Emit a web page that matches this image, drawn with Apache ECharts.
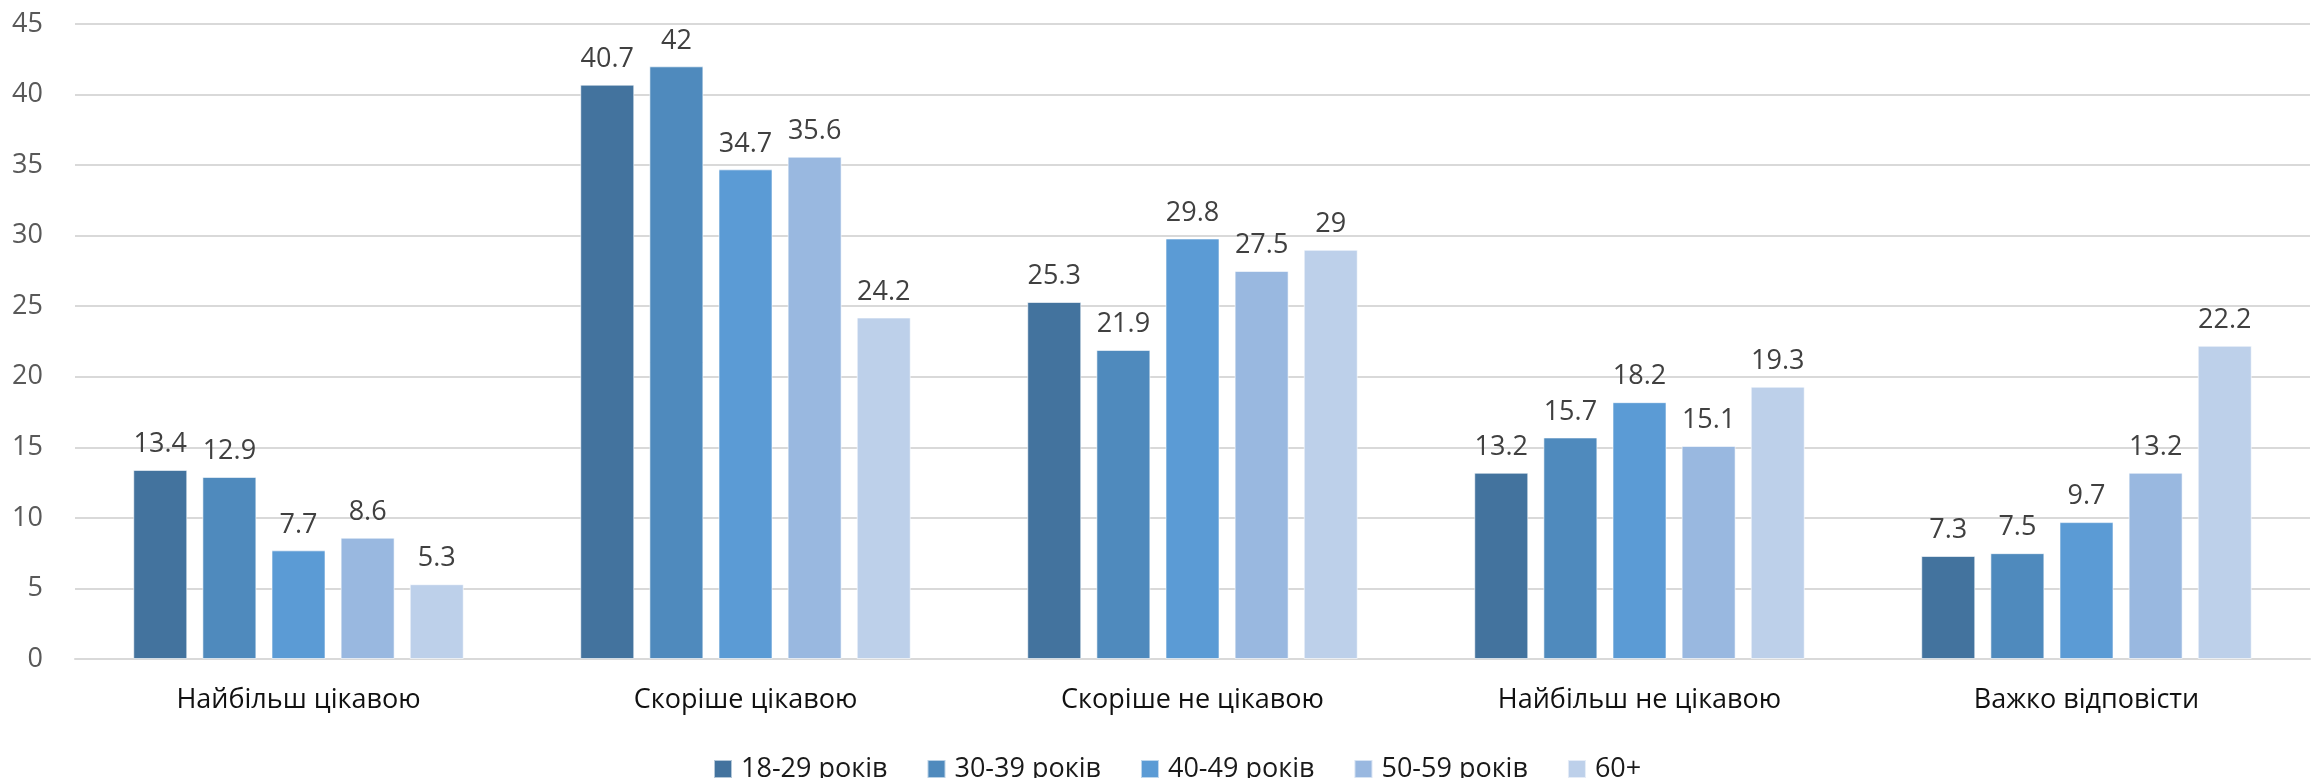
<!DOCTYPE html>
<html>
<head>
<meta charset="utf-8">
<script src="https://cdn.jsdelivr.net/npm/echarts@6/dist/echarts.min.js"></script>
<style>
  html, body { margin: 0; padding: 0; background: #fff; }
  #chart { width: 2311px; height: 778px; }
</style>
</head>
<body>
<div id="chart"></div>
<script>
// Answer options (x-axis categories)
const categories = ['Найбільш цікавою', 'Скоріше цікавою', 'Скоріше не цікавою', 'Найбільш не цікавою', 'Важко відповісти'];

// Age groups and their shares, %
const ageGroups = ['18-29 років', '30-39 років', '40-49 років', '50-59 років', '60+'];
const age18_29 = [13.4, 40.7, 25.3, 13.2, 7.3];
const age30_39 = [12.9, 42, 21.9, 15.7, 7.5];
const age40_49 = [7.7, 34.7, 29.8, 18.2, 9.7];
const age50_59 = [8.6, 35.6, 27.5, 15.1, 13.2];
const age60plus = [5.3, 24.2, 29, 19.3, 22.2];

const yTicks = { min: 0, max: 45, interval: 5 };
const colors = ['#43739E', '#4F8ABD', '#5B9BD5', '#99B8E0', '#BDD0EA'];

const seriesValues = [age18_29, age30_39, age40_49, age50_59, age60plus];
const FONT = '"Open Sans", "Noto Sans", sans-serif';

const chart = echarts.init(document.getElementById('chart'), null, { renderer: 'canvas' });

chart.setOption({
  animation: false,
  textStyle: { fontFamily: FONT },
  grid: { left: 75, right: 1, top: 24, bottom: 119, containLabel: false },
  legend: {
    data: ageGroups,
    top: 750,
    left: 708,
    itemWidth: 18,
    itemHeight: 18,
    itemGap: 39,
    icon: 'rect',
    textStyle: { fontFamily: FONT, fontSize: 27, lineHeight: 28, color: '#1a1a1a', padding: [0, 0, 0, 4] }
  },
  xAxis: {
    type: 'category',
    data: categories,
    axisLine: { show: true, lineStyle: { color: '#d9d9d9', width: 2 } },
    axisTick: { show: false },
    axisLabel: { fontFamily: FONT, fontSize: 27, color: '#111', margin: 28 }
  },
  yAxis: {
    type: 'value',
    min: yTicks.min,
    max: yTicks.max,
    interval: yTicks.interval,
    axisLine: { show: false },
    axisTick: { show: false },
    splitLine: { lineStyle: { color: '#d9d9d9', width: 2 } },
    axisLabel: { fontFamily: FONT, fontSize: 27, color: '#595959', margin: 32 }
  },
  series: ageGroups.map((name, i) => ({
    name,
    type: 'bar',
    data: seriesValues[i],
    barWidth: 54,
    barGap: '28%',
    itemStyle: { color: colors[i], borderColor: 'rgba(255,255,255,0.6)', borderWidth: 1 },
    label: {
      show: true,
      position: 'top',
      distance: 12,
      fontFamily: FONT,
      fontSize: 27,
      color: '#404040'
    }
  }))
});
</script>
</body>
</html>
